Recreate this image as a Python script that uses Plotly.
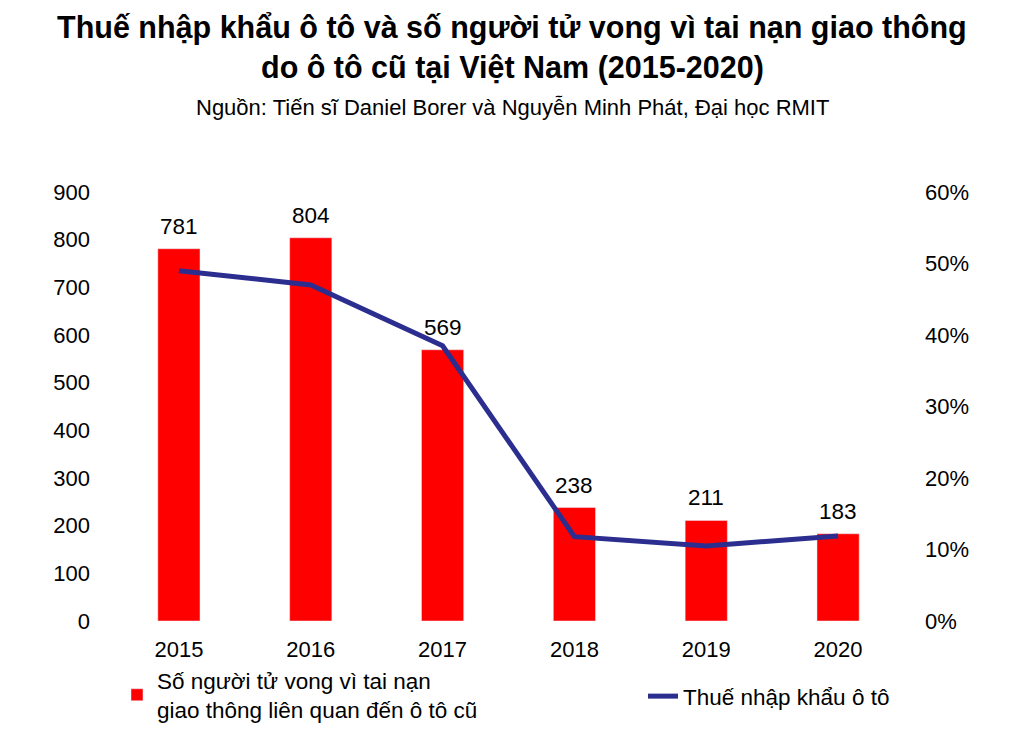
import plotly.graph_objects as go

years = ["2015", "2016", "2017", "2018", "2019", "2020"]
deaths = [781, 804, 569, 238, 211, 183]
tariff = [0.49, 0.47, 0.385, 0.118, 0.105, 0.119]

bar_name = "Số người tử vong vì tai nạn<br>giao thông liên quan đến ô tô cũ"
line_name = "Thuế nhập khẩu ô tô"
title_1 = "Thuế nhập khẩu ô tô và số người tử vong vì tai nạn giao thông"
title_2 = "do ô tô cũ tại Việt Nam (2015-2020)"
subtitle = "Nguồn: Tiến sĩ Daniel Borer và Nguyễn Minh Phát, Đại học RMIT"

FONT = "Liberation Sans, Arial, sans-serif"

# page body adds an 8px margin, so the figure is drawn 8px smaller and offset
OFF = 8
W, H = 1024 - OFF, 729 - OFF
ml, mr, mt, mb = 105, 120, 184, 108
pw = W - ml - mr
ph = H - mt - mb


def py(pix):
    return (H - mb - (pix - OFF)) / ph


def px(pix):
    return (pix - OFF - ml) / pw


fig = go.Figure()
fig.add_trace(go.Bar(x=years, y=deaths, name=bar_name, marker_color="#FF0000",
                     width=0.32, yaxis="y", legend="legend"))
fig.add_trace(go.Scatter(x=years, y=tariff, name=line_name, mode="lines",
                         line=dict(color="#2B2E8E", width=5), yaxis="y2", legend="legend2"))

for i, v in enumerate(deaths):
    fig.add_annotation(x=i, y=v, xref="x", yref="y", text=str(v), showarrow=False,
                       yanchor="bottom", yshift=8,
                       font=dict(size=22.5, color="#000000", family=FONT))

fig.add_annotation(x=px(512), y=py(27), xref="paper", yref="paper", text="<b>" + title_1 + "</b>",
                   showarrow=False, xanchor="center", yanchor="middle",
                   font=dict(size=30.5, color="#000000", family=FONT))
fig.add_annotation(x=px(512), y=py(67), xref="paper", yref="paper", text="<b>" + title_2 + "</b>",
                   showarrow=False, xanchor="center", yanchor="middle",
                   font=dict(size=30.5, color="#000000", family=FONT))
fig.add_annotation(x=px(512), y=py(108), xref="paper", yref="paper", text=subtitle,
                   showarrow=False, xanchor="center", yanchor="middle",
                   font=dict(size=22, color="#000000", family=FONT))

leg_font = dict(size=22.5, family=FONT, color="#000000")
fig.update_layout(
    width=W, height=H,
    margin=dict(l=ml, r=mr, t=mt, b=mb, pad=0, autoexpand=False),
    paper_bgcolor="white", plot_bgcolor="white",
    font=dict(family=FONT, size=22, color="#000000"),
    showlegend=True,
    legend=dict(orientation="h", x=px(117), y=py(659), xanchor="left", yanchor="top",
                font=leg_font, bgcolor="rgba(0,0,0,0)"),
    legend2=dict(orientation="h", x=px(643), y=py(675), xanchor="left", yanchor="top",
                 font=leg_font, bgcolor="rgba(0,0,0,0)"),
    xaxis=dict(type="category", showgrid=False, showline=False, ticks="",
               tickfont=dict(size=22), ticklabelstandoff=13),
    yaxis=dict(range=[0, 900], dtick=100, showgrid=False, showline=False, zeroline=False,
               ticks="", tickfont=dict(size=22), ticklabelstandoff=22),
    yaxis2=dict(range=[0, 0.6], dtick=0.1, tickformat=".0%", overlaying="y", side="right",
                showgrid=False, showline=False, zeroline=False, ticks="",
                tickfont=dict(size=22), ticklabelstandoff=20),
)

fig.write_html("out.html")
